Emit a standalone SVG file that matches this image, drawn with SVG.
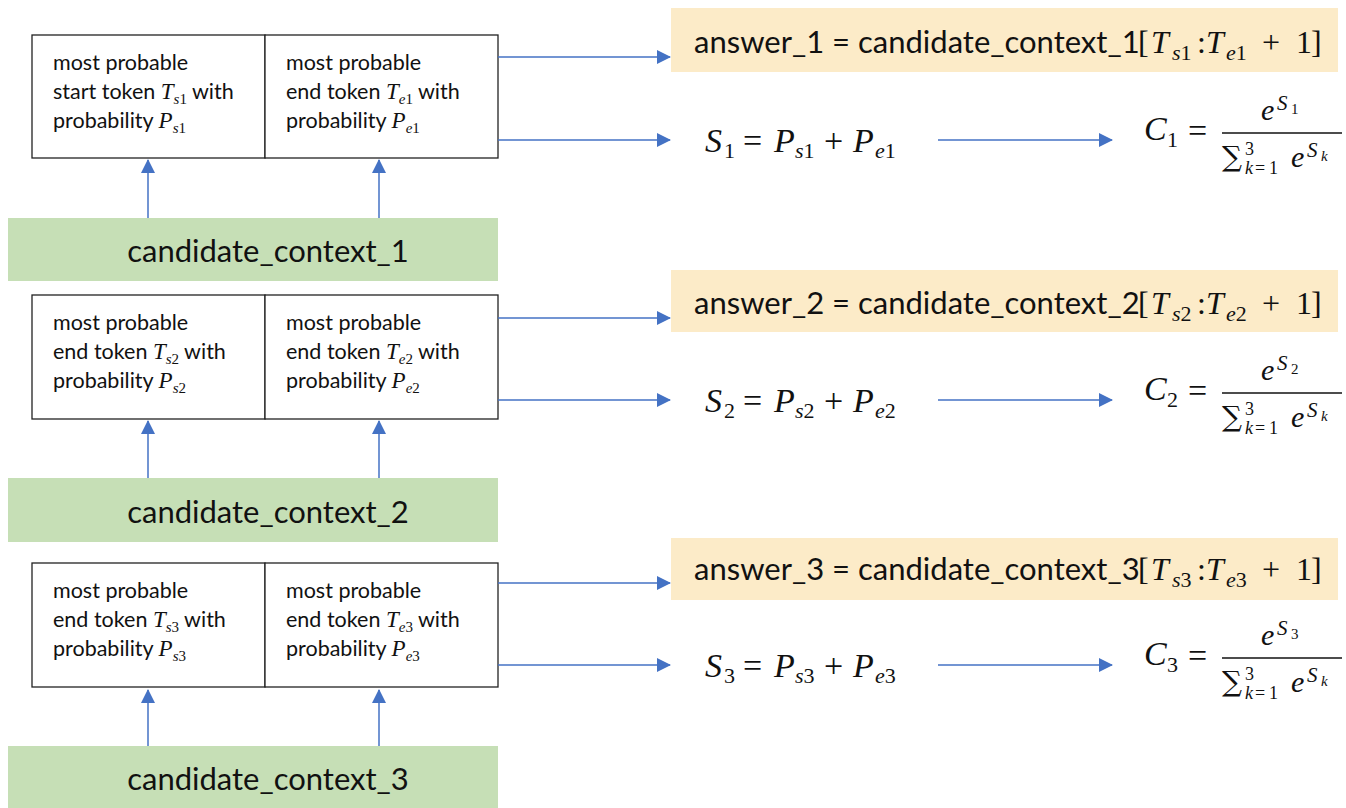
<svg xmlns="http://www.w3.org/2000/svg" width="1346" height="808" viewBox="0 0 1346 808">
  <style>
    .box { fill: #ffffff; stroke: #222222; stroke-width: 1.3; }
    .ctx { fill: #c6dfb6; }
    .ans { fill: #fcebc8; }
    .lbl { font-family: Lato, "Liberation Sans", sans-serif; font-size: 21.5px; fill: #111111; }
    .ctxt { font-family: Lato, "Liberation Sans", sans-serif; font-size: 31px; fill: #111111; text-anchor: middle; }
    .atxt { font-family: Lato, "Liberation Sans", sans-serif; font-size: 31px; fill: #111111; }
    .mt { font-family: "Liberation Serif", "DejaVu Serif", serif; font-style: italic; font-size: 23px; }
    .ms { font-family: "Liberation Serif", "DejaVu Serif", serif; font-style: normal; font-size: 15px; }
    .m { font-family: "Liberation Serif", "DejaVu Serif", serif; fill: #111111; font-size: 32px; }
    .m34 { font-family: "Liberation Serif", "DejaVu Serif", serif; fill: #111111; font-size: 34px; }
    .m30 { font-family: "Liberation Serif", "DejaVu Serif", serif; fill: #111111; font-size: 30px; }
    .m22 { font-family: "Liberation Serif", "DejaVu Serif", serif; fill: #111111; font-size: 22px; }
    .m21 { font-family: "Liberation Serif", "DejaVu Serif", serif; fill: #111111; font-size: 21px; }
    .m18 { font-family: "Liberation Serif", "DejaVu Serif", serif; fill: #111111; font-size: 18px; }
    .m15 { font-family: "Liberation Serif", "DejaVu Serif", serif; fill: #111111; font-size: 15px; }
    .sig { font-family: "DejaVu Serif", "Liberation Serif", serif; fill: #111111; font-size: 28px; }
    .i { font-style: italic; }
    .conn line { stroke: #4472c4; stroke-width: 1.5; fill: none; }
    .frac { stroke: #111111; stroke-width: 1.6; }
  </style>
  <defs>
    <marker id="ah" viewBox="0 0 14 14" refX="13" refY="7" markerWidth="14" markerHeight="14" markerUnits="userSpaceOnUse" orient="auto">
      <path d="M0,0 L14,7 L0,14 Z" fill="#4472c4"/>
    </marker>
  </defs>

  <!-- ===== Row 1 ===== -->
  <g id="ctx1">
    <rect class="ctx" x="8" y="218" width="490" height="63"/>
    <text class="ctxt" x="268" y="262">candidate_context_1</text>
  </g>
  <g id="start1">
    <rect class="box" x="32" y="35" width="233" height="123"/>
    <text class="lbl" x="53" y="70">most probable</text>
    <text class="lbl" x="53" y="99">start token <tspan class="mt">T</tspan><tspan class="ms" dy="5"><tspan class="i">s</tspan>1</tspan><tspan dy="-5"> with</tspan></text>
    <text class="lbl" x="53" y="128">probability <tspan class="mt">P</tspan><tspan class="ms" dy="5"><tspan class="i">s</tspan>1</tspan></text>
  </g>
  <g id="end1">
    <rect class="box" x="265" y="35" width="233" height="123"/>
    <text class="lbl" x="286" y="70">most probable</text>
    <text class="lbl" x="286" y="99">end token <tspan class="mt">T</tspan><tspan class="ms" dy="5"><tspan class="i">e</tspan>1</tspan><tspan dy="-5"> with</tspan></text>
    <text class="lbl" x="286" y="128">probability <tspan class="mt">P</tspan><tspan class="ms" dy="5"><tspan class="i">e</tspan>1</tspan></text>
  </g>
  <g id="answer1">
    <rect class="ans" x="671" y="8" width="667" height="64"/>
    <text class="atxt" x="694" y="53">answer_1 = candidate_context_1</text>
    <text class="m" y="53"><tspan x="1138">[</tspan><tspan class="i" x="1151">T</tspan><tspan class="m22" x="1172" y="60"><tspan class="i">s</tspan>1</tspan><tspan x="1197" y="53">:</tspan><tspan class="i" x="1206">T</tspan><tspan class="m22" x="1226" y="60"><tspan class="i">e</tspan>1</tspan><tspan x="1262" y="53">+</tspan><tspan x="1296">1</tspan><tspan x="1311">]</tspan></text>
  </g>
  <g id="score1">
    <text class="m34" y="152"><tspan class="i" x="705">S</tspan><tspan class="m22" x="724" y="158">1</tspan><tspan x="743" y="152">=</tspan><tspan class="i" x="774">P</tspan><tspan class="m22" x="795" y="158"><tspan class="i">s</tspan>1</tspan><tspan x="824" y="152">+</tspan><tspan class="i" x="853">P</tspan><tspan class="m22" x="875" y="158"><tspan class="i">e</tspan>1</tspan></text>
  </g>
  <g id="conf1">
    <text class="m34" y="140"><tspan class="i" x="1144">C</tspan><tspan class="m22" x="1167" y="147">1</tspan><tspan x="1188" y="142">=</tspan></text>
    <text class="m30" y="120"><tspan class="i" x="1261">e</tspan><tspan class="m21 i" x="1277" y="110">S</tspan><tspan class="m15" x="1291" y="114">1</tspan></text>
    <line class="frac" x1="1222" y1="133" x2="1342" y2="133"/>
    <text class="sig" x="1222" y="166">∑</text>
    <text class="m18" x="1245" y="155">3</text>
    <text class="m18" y="174"><tspan class="i" x="1245">k</tspan><tspan x="1255">=</tspan><tspan x="1269">1</tspan></text>
    <text class="m30" y="167"><tspan class="i" x="1291">e</tspan><tspan class="m21 i" x="1307" y="157">S</tspan><tspan class="m15 i" x="1321" y="161">k</tspan></text>
  </g>

  <!-- ===== Row 2 ===== -->
  <g id="ctx2">
    <rect class="ctx" x="8" y="478" width="490" height="64"/>
    <text class="ctxt" x="268" y="523">candidate_context_2</text>
  </g>
  <g id="start2">
    <rect class="box" x="32" y="295" width="233" height="124"/>
    <text class="lbl" x="53" y="330">most probable</text>
    <text class="lbl" x="53" y="359">end token <tspan class="mt">T</tspan><tspan class="ms" dy="5"><tspan class="i">s</tspan>2</tspan><tspan dy="-5"> with</tspan></text>
    <text class="lbl" x="53" y="388">probability <tspan class="mt">P</tspan><tspan class="ms" dy="5"><tspan class="i">s</tspan>2</tspan></text>
  </g>
  <g id="end2">
    <rect class="box" x="265" y="295" width="233" height="124"/>
    <text class="lbl" x="286" y="330">most probable</text>
    <text class="lbl" x="286" y="359">end token <tspan class="mt">T</tspan><tspan class="ms" dy="5"><tspan class="i">e</tspan>2</tspan><tspan dy="-5"> with</tspan></text>
    <text class="lbl" x="286" y="388">probability <tspan class="mt">P</tspan><tspan class="ms" dy="5"><tspan class="i">e</tspan>2</tspan></text>
  </g>
  <g id="answer2">
    <rect class="ans" x="671" y="270" width="667" height="62"/>
    <text class="atxt" x="694" y="314">answer_2 = candidate_context_2</text>
    <text class="m" y="314"><tspan x="1138">[</tspan><tspan class="i" x="1151">T</tspan><tspan class="m22" x="1172" y="321"><tspan class="i">s</tspan>2</tspan><tspan x="1197" y="314">:</tspan><tspan class="i" x="1206">T</tspan><tspan class="m22" x="1226" y="321"><tspan class="i">e</tspan>2</tspan><tspan x="1262" y="314">+</tspan><tspan x="1296">1</tspan><tspan x="1311">]</tspan></text>
  </g>
  <g id="score2">
    <text class="m34" y="412"><tspan class="i" x="705">S</tspan><tspan class="m22" x="724" y="418">2</tspan><tspan x="743" y="412">=</tspan><tspan class="i" x="774">P</tspan><tspan class="m22" x="795" y="418"><tspan class="i">s</tspan>2</tspan><tspan x="824" y="412">+</tspan><tspan class="i" x="853">P</tspan><tspan class="m22" x="875" y="418"><tspan class="i">e</tspan>2</tspan></text>
  </g>
  <g id="conf2">
    <text class="m34" y="400"><tspan class="i" x="1144">C</tspan><tspan class="m22" x="1167" y="407">2</tspan><tspan x="1188" y="402">=</tspan></text>
    <text class="m30" y="380"><tspan class="i" x="1261">e</tspan><tspan class="m21 i" x="1277" y="370">S</tspan><tspan class="m15" x="1291" y="374">2</tspan></text>
    <line class="frac" x1="1222" y1="393" x2="1342" y2="393"/>
    <text class="sig" x="1222" y="426">∑</text>
    <text class="m18" x="1245" y="415">3</text>
    <text class="m18" y="434"><tspan class="i" x="1245">k</tspan><tspan x="1255">=</tspan><tspan x="1269">1</tspan></text>
    <text class="m30" y="427"><tspan class="i" x="1291">e</tspan><tspan class="m21 i" x="1307" y="417">S</tspan><tspan class="m15 i" x="1321" y="421">k</tspan></text>
  </g>

  <!-- ===== Row 3 ===== -->
  <g id="ctx3">
    <rect class="ctx" x="8" y="746" width="490" height="62"/>
    <text class="ctxt" x="268" y="790">candidate_context_3</text>
  </g>
  <g id="start3">
    <rect class="box" x="32" y="563" width="233" height="124"/>
    <text class="lbl" x="53" y="598">most probable</text>
    <text class="lbl" x="53" y="627">end token <tspan class="mt">T</tspan><tspan class="ms" dy="5"><tspan class="i">s</tspan>3</tspan><tspan dy="-5"> with</tspan></text>
    <text class="lbl" x="53" y="656">probability <tspan class="mt">P</tspan><tspan class="ms" dy="5"><tspan class="i">s</tspan>3</tspan></text>
  </g>
  <g id="end3">
    <rect class="box" x="265" y="563" width="233" height="124"/>
    <text class="lbl" x="286" y="598">most probable</text>
    <text class="lbl" x="286" y="627">end token <tspan class="mt">T</tspan><tspan class="ms" dy="5"><tspan class="i">e</tspan>3</tspan><tspan dy="-5"> with</tspan></text>
    <text class="lbl" x="286" y="656">probability <tspan class="mt">P</tspan><tspan class="ms" dy="5"><tspan class="i">e</tspan>3</tspan></text>
  </g>
  <g id="answer3">
    <rect class="ans" x="671" y="538" width="667" height="62"/>
    <text class="atxt" x="694" y="580">answer_3 = candidate_context_3</text>
    <text class="m" y="580"><tspan x="1138">[</tspan><tspan class="i" x="1151">T</tspan><tspan class="m22" x="1172" y="587"><tspan class="i">s</tspan>3</tspan><tspan x="1197" y="580">:</tspan><tspan class="i" x="1206">T</tspan><tspan class="m22" x="1226" y="587"><tspan class="i">e</tspan>3</tspan><tspan x="1262" y="580">+</tspan><tspan x="1296">1</tspan><tspan x="1311">]</tspan></text>
  </g>
  <g id="score3">
    <text class="m34" y="677"><tspan class="i" x="705">S</tspan><tspan class="m22" x="724" y="683">3</tspan><tspan x="743" y="677">=</tspan><tspan class="i" x="774">P</tspan><tspan class="m22" x="795" y="683"><tspan class="i">s</tspan>3</tspan><tspan x="824" y="677">+</tspan><tspan class="i" x="853">P</tspan><tspan class="m22" x="875" y="683"><tspan class="i">e</tspan>3</tspan></text>
  </g>
  <g id="conf3">
    <text class="m34" y="665"><tspan class="i" x="1144">C</tspan><tspan class="m22" x="1167" y="672">3</tspan><tspan x="1188" y="667">=</tspan></text>
    <text class="m30" y="645"><tspan class="i" x="1261">e</tspan><tspan class="m21 i" x="1277" y="635">S</tspan><tspan class="m15" x="1291" y="639">3</tspan></text>
    <line class="frac" x1="1222" y1="658" x2="1342" y2="658"/>
    <text class="sig" x="1222" y="691">∑</text>
    <text class="m18" x="1245" y="680">3</text>
    <text class="m18" y="699"><tspan class="i" x="1245">k</tspan><tspan x="1255">=</tspan><tspan x="1269">1</tspan></text>
    <text class="m30" y="692"><tspan class="i" x="1291">e</tspan><tspan class="m21 i" x="1307" y="682">S</tspan><tspan class="m15 i" x="1321" y="686">k</tspan></text>
  </g>

  <!-- connectors -->
  <g class="conn" id="connectors">
    <line x1="148" y1="218" x2="148" y2="160" marker-end="url(#ah)"/>
    <line x1="379" y1="218" x2="379" y2="160" marker-end="url(#ah)"/>
    <line x1="498" y1="57" x2="670" y2="57" marker-end="url(#ah)"/>
    <line x1="498" y1="140" x2="670" y2="140" marker-end="url(#ah)"/>
    <line x1="938" y1="140" x2="1112" y2="140" marker-end="url(#ah)"/>

    <line x1="148" y1="478" x2="148" y2="421" marker-end="url(#ah)"/>
    <line x1="379" y1="478" x2="379" y2="421" marker-end="url(#ah)"/>
    <line x1="498" y1="318" x2="670" y2="318" marker-end="url(#ah)"/>
    <line x1="498" y1="400" x2="670" y2="400" marker-end="url(#ah)"/>
    <line x1="938" y1="400" x2="1112" y2="400" marker-end="url(#ah)"/>

    <line x1="148" y1="746" x2="148" y2="690" marker-end="url(#ah)"/>
    <line x1="379" y1="746" x2="379" y2="690" marker-end="url(#ah)"/>
    <line x1="498" y1="583" x2="670" y2="583" marker-end="url(#ah)"/>
    <line x1="498" y1="665" x2="670" y2="665" marker-end="url(#ah)"/>
    <line x1="938" y1="665" x2="1112" y2="665" marker-end="url(#ah)"/>
  </g>
</svg>
